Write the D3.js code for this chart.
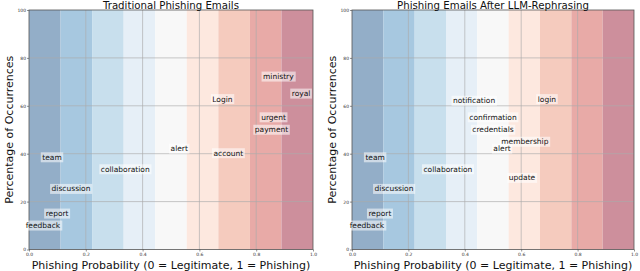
<!DOCTYPE html>
<html><head><meta charset="utf-8">
<script src="https://cdn.jsdelivr.net/npm/d3@7"></script>
<style>body{margin:0;background:#fff}svg{display:block}text{font-family:"DejaVu Sans",sans-serif}</style>
</head><body><svg id="c" width="640" height="271"></svg>
<script>
const bandColors = ["#93aec8","#a7c8e0","#c8dfed","#e6eff7","#f8f8f8","#fde8df","#f5cbbe","#e8aaa7","#cd8f9c"];
const xTicks = [0,0.2,0.4,0.6,0.8,1.0];
const yTicks = [0,20,40,60,80,100];
const titles = ["Traditional Phishing Emails","Phishing Emails After LLM-Rephrasing"];
const wordsA = ["ministry","royal","Login","urgent","payment","alert","account","team","collaboration","discussion","report","feedback"];
const probA  = [0.878,0.958,0.681,0.861,0.854,0.529,0.702,0.081,0.339,0.148,0.099,0.049];
const pctA   = [72.2,65.1,62.8,55.2,50.0,42.1,40.2,38.5,33.5,25.3,15.0,10.0];
const wordsB = ["notification","login","confirmation","credentials","membership","alert","team","collaboration","update","discussion","report","feedback"];
const probB  = [0.433,0.691,0.500,0.500,0.613,0.532,0.082,0.340,0.603,0.149,0.099,0.053];
const pctB   = [62.1,62.8,55.2,50.0,45.0,42.1,38.5,33.5,29.9,25.3,15.0,10.0];

(function(){
const svg = d3.select("#c");
const panels = [
  {x0:29, x1:313, words:wordsA, px:probA, py:pctA, title:titles[0]},
  {x0:352, x1:634, words:wordsB, px:probB, py:pctB, title:titles[1]}
];
const pTop = 10, pBottom = 249.5;
const y = d3.scaleLinear().domain([0,100]).range([pBottom, pTop]);

panels.forEach(p => {
  const x = d3.scaleLinear().domain([0,1]).range([p.x0, p.x1]);
  const g = svg.append("g");
  const n = bandColors.length;
  g.selectAll("rect.band").data(bandColors).enter().append("rect")
    .attr("x", (d,i)=>x(i/n)).attr("width",(d,i)=>x((i+1)/n)-x(i/n))
    .attr("y", y(100)).attr("height", y(0)-y(100)).attr("fill", d=>d);
  g.selectAll("line.gx").data(xTicks.slice(1,-1)).enter().append("line")
    .attr("x1",d=>x(d)).attr("x2",d=>x(d)).attr("y1",y(100)).attr("y2",y(0))
    .attr("stroke","#aaaaaa").attr("stroke-opacity",0.65).attr("stroke-width",1);
  g.selectAll("line.gy").data(yTicks.slice(1,-1)).enter().append("line")
    .attr("x1",x(0)).attr("x2",x(1)).attr("y1",d=>y(d)).attr("y2",d=>y(d))
    .attr("stroke","#aaaaaa").attr("stroke-opacity",0.65).attr("stroke-width",1);
  g.append("rect").attr("x",x(0)).attr("y",y(100)).attr("width",x(1)-x(0)).attr("height",y(0)-y(100))
    .attr("fill","none").attr("stroke","#555").attr("stroke-width",0.8);
  const ax = g.append("g").attr("transform",`translate(0,${pBottom})`)
    .call(d3.axisBottom(x).tickValues(xTicks).tickFormat(d3.format(".1f")).tickSize(2).tickPadding(1));
  const ay = g.append("g").attr("transform",`translate(${p.x0},0)`)
    .call(d3.axisLeft(y).tickValues(yTicks).tickSize(2).tickPadding(1));
  [ax,ay].forEach(a=>{a.select(".domain").remove();
    a.selectAll("line").attr("stroke","#444").attr("stroke-width",0.6);
    a.selectAll("text").attr("font-size","4.5px").attr("fill","#333").style("font-family","DejaVu Sans");});
  p.words.forEach((w,i)=>{
    const t = g.append("text").attr("x",x(p.px[i])).attr("y",y(p.py[i]))
      .attr("text-anchor","middle").attr("dominant-baseline","central")
      .attr("font-size","7.5px").attr("fill","#111").text(w);
    const bb = t.node().getBBox();
    g.insert("rect", function(){return t.node();})
      .attr("x",bb.x-1.5).attr("y",bb.y-0.5).attr("width",bb.width+3).attr("height",bb.height+1)
      .attr("fill","#fff").attr("fill-opacity",0.55);
  });
  g.append("text").attr("x",(p.x0+p.x1)/2).attr("y",8.5).attr("text-anchor","middle")
    .attr("font-size","10.2px").attr("fill","#111").text(p.title);
  g.append("text").attr("x",(p.x0+p.x1)/2).attr("y",269).attr("text-anchor","middle")
    .attr("font-size","11px").attr("fill","#111").text("Phishing Probability (0 = Legitimate, 1 = Phishing)");
  g.append("text").attr("transform",`translate(${p.x0-16},${(pTop+pBottom)/2}) rotate(-90)`)
    .attr("text-anchor","middle").attr("font-size","11px").attr("fill","#111").text("Percentage of Occurrences");
});
})();
</script></body></html>
